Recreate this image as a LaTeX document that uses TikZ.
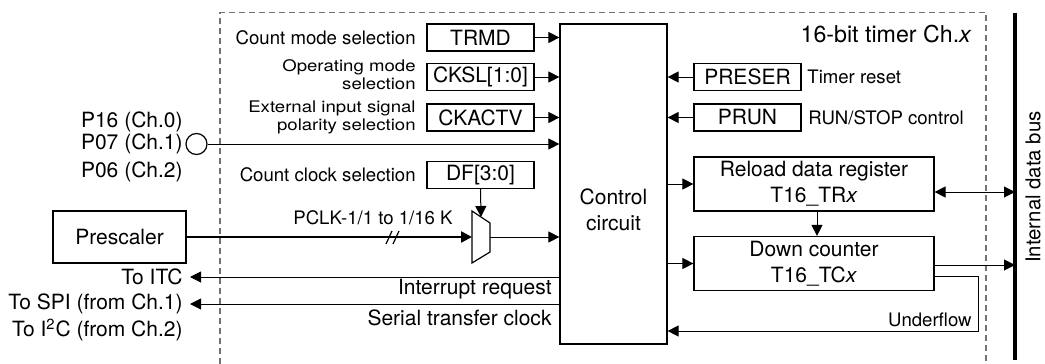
\documentclass[tikz,border=0pt]{standalone}
\usepackage{fontspec}
\setmainfont{TeX Gyre Heros}
\usetikzlibrary{arrows.meta}
\begin{document}
\begin{tikzpicture}[x=0.5pt,y=-0.5pt,>={Triangle[length=5.5pt,width=5.5pt]}, font=\fontsize{10.5}{13}\selectfont, line join=miter]
	\def\lblfont{\fontsize{9.3}{10.5}\selectfont}
	\tikzset{reg/.style={draw,line width=0.6pt,minimum width=53.5pt,minimum height=13.5pt,inner sep=0pt},
		blk/.style={draw,line width=0.6pt,minimum width=120pt,minimum height=27pt,inner sep=0pt,align=center},
		note/.style={inner sep=0pt,font=\lblfont},
		pin/.style={inner sep=0pt,anchor=east},
		wire/.style={line width=0.5pt}}
	\useasboundingbox (0,0) rectangle (1045,364);
	% frame of one timer channel
	\draw[black!55,line width=0.55pt,dash pattern=on 3pt off 2pt] (220,364) -- (220,12.5) -- (986,12.5) -- (986,364);
	\node[pin,font=\fontsize{11.6}{13}\selectfont] (title) at (972,34.5) {16-bit timer Ch.\textit{x}};
	% registers on the left
	\node[reg] (trmd) at (480.5,37.5) {TRMD};
	\node[reg] (cksl) at (480.5,77) {CKSL[1:0]};
	\node[reg] (ckactv) at (480.5,117.5) {CKACTV};
	\node[reg] (df) at (480.5,175) {DF[3:0]};
	\node[note,anchor=east] (modesel) at (416,37.5) {Count mode selection};
	\node[note,anchor=east] (opsel) at (416,77) {\scalebox{1}[0.86]{\begin{tabular}{@{}r@{}}Operating mode\\selection\end{tabular}}};
	\node[note,anchor=east] (polsel) at (416,117.5) {\scalebox{1}[0.86]{\begin{tabular}{@{}r@{}}External input signal\\polarity selection\end{tabular}}};
	\node[note,anchor=east] (clksel) at (416,175) {Count clock selection};
	% control circuit
	\node[draw,line width=0.6pt,minimum width=53.5pt,minimum height=160pt,inner sep=0pt] (ctrl) at (613.5,184) {};
	\node[align=center] (ctrltxt) at (613.5,210) {Control\\circuit};
	% registers on the right
	\node[reg] (preser) at (747.5,77) {PRESER};
	\node[reg] (prun) at (747.5,117.5) {PRUN};
	\node[note,anchor=west] (rstlbl) at (807,77) {Timer reset};
	\node[note,anchor=west] (runlbl) at (808,117.5) {RUN/STOP control};
	\node[blk] (reload) at (814,184) {Reload data register\\T16\_TR\textit{x}};
	\node[blk] (down) at (814,263.5) {Down counter\\T16\_TC\textit{x}};
	% pins and outputs
	\node[pin] (p16) at (183,121.5) {P16 (Ch.0)};
	\node[pin] (p07) at (183,144) {P07 (Ch.1)};
	\node[pin] (p06) at (183,172) {P06 (Ch.2)};
	\node[circle,draw,line width=0.6pt,minimum size=10.5pt,inner sep=0pt] (p07c) at (196.5,144) {};
	\node[draw,line width=0.6pt,minimum width=66.5pt,minimum height=26pt] (pre) at (119.5,237) {Prescaler};
	\node[pin] (toitc) at (183,277) {To ITC};
	\node[pin] (tospi) at (183,304) {To SPI (from Ch.1)};
	\node[pin] (toi2c) at (183,330) {To I\textsuperscript{2}C (from Ch.2)};
	\node[pin] (irq) at (552,289) {Interrupt request};
	\node[pin] (sclk) at (552,318) {Serial transfer clock};
	\node[note] (pclk) at (373,218) {PCLK-1/1 to 1/16 K};
	\node[note,anchor=east] (uflbl) at (972,320) {Underflow};
	% clock selector
	\coordinate (mux in) at (472,237);
	\coordinate (mux out) at (490,237);
	\coordinate (mux top) at (481,217);
	\draw[wire,line width=0.6pt] (472,211) -- (490,223) -- (490,252) -- (472,263) -- cycle;
	% bus
	\coordinate (bus top) at (1015,12.5);
	\coordinate (bus bot) at (1015,360);
	\coordinate (uf) at (978,331);
	% connections
	\draw[wire,->] (trmd.east) -- (trmd.east -| ctrl.west);
	\draw[wire,->] (cksl.east) -- (cksl.east -| ctrl.west);
	\draw[wire,->] (ckactv.east) -- (ckactv.east -| ctrl.west);
	\draw[wire,->] (p07c.east) -- (p07c -| ctrl.west);
	\draw[wire,->] (df.south) -- (mux top);
	\draw[line width=1.2pt,->] (pre.east) -- (mux in);
	\draw[line width=0.6pt] (386,244) -- (392,231) (393,244) -- (399,231);
	\draw[wire,->] (mux out) -- (mux out -| ctrl.west);
	\draw[wire,->] (ctrl.west |- toitc) -- ([xshift=3.5pt]toitc.east);
	\draw[wire,->] (ctrl.west |- tospi) -- ([xshift=3.5pt]tospi.east);
	\draw[wire,->] (preser.west) -- (preser.west -| ctrl.east);
	\draw[wire,->] (prun.west) -- (prun.west -| ctrl.east);
	\draw[wire,->] (ctrl.east |- reload.west) -- (reload.west);
	\draw[wire,->] (ctrl.east |- down.west) -- (down.west);
	\draw[wire,->] ([xshift=1.5pt]reload.south) -- ([xshift=1.5pt]down.north);
	\draw[wire,<->] ([yshift=-4pt]reload.east) -- ([yshift=-4pt]reload.east -| bus top);
	\draw[wire,->] ([yshift=-0.75pt]down.east) -- ([yshift=-0.75pt]down.east -| bus top);
	\draw[wire,->] ([yshift=-6.25pt]down.east) -| (uf) -- (uf -| ctrl.east);
	\draw[line width=2pt] (bus top) -- (bus bot);
	\node[rotate=90,font=\fontsize{10.2}{12}\selectfont] (buslbl) at (1033,187) {Internal data bus};
\end{tikzpicture}
\end{document}
